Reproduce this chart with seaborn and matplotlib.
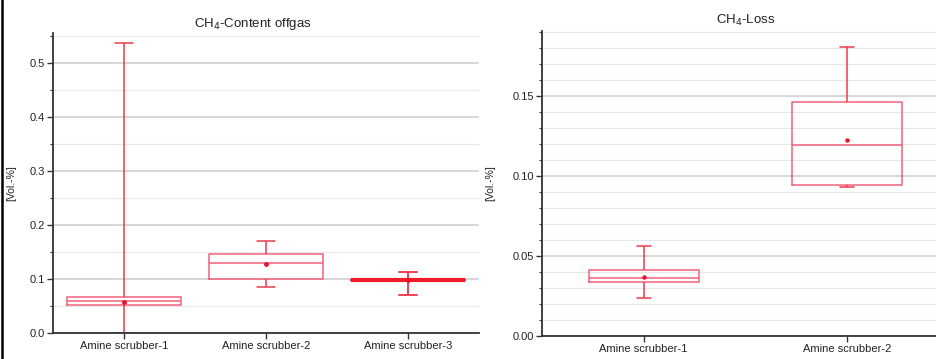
import matplotlib
matplotlib.use("Agg")
import matplotlib.pyplot as plt
import matplotlib.ticker as mticker
import pandas as pd
import seaborn as sns

# CH4 content in the offgas [Vol.-%]
left_cats = ["Amine scrubber-1", "Amine scrubber-2", "Amine scrubber-3"]
left_min = [0.0, 0.086, 0.070]
left_q1 = [0.051, 0.099, 0.098]
left_med = [0.059, 0.129, 0.098]
left_q3 = [0.066, 0.146, 0.098]
left_max = [0.537, 0.170, 0.113]
left_mean = [0.057, 0.127, 0.098]

# CH4 loss [Vol.-%]
right_cats = ["Amine scrubber-1", "Amine scrubber-2"]
right_min = [0.0236, 0.0933]
right_q1 = [0.0335, 0.0946]
right_med = [0.0365, 0.1196]
right_q3 = [0.0411, 0.1460]
right_max = [0.0560, 0.1804]
right_mean = [0.0369, 0.1223]


def long_form(cats, mins, q1s, meds, q3s, maxs):
    rows = []
    for c, a, b, m, d, e in zip(cats, mins, q1s, meds, q3s, maxs):
        for v in (a, b, m, d, e):
            rows.append({"group": c, "value": v})
    return pd.DataFrame(rows)


sns.set_theme(style="white")
plt.rcParams["font.family"] = ["Liberation Sans", "DejaVu Sans"]

box_col = "#f2607a"
whisk_col = "#ee3a4c"
mean_col = "#e8102a"


def draw_panel(ax, df, cats, means, width, capw):
    sns.boxplot(data=df, x="group", y="value", order=cats, ax=ax,
                whis=(0, 100), width=width, fill=False, color=box_col,
                linecolor=box_col, linewidth=1.1, capwidths=capw,
                boxprops={"color": box_col},
                whiskerprops={"color": whisk_col},
                capprops={"color": whisk_col},
                medianprops={"color": box_col})
    sns.stripplot(x=cats, y=means, order=cats, jitter=False, color=mean_col,
                  size=3.2, linewidth=0, ax=ax, zorder=5)
    ax.set_xlabel("")
    ax.set_ylabel("[Vol.-%]", fontsize=7.5, color="#222222")
    ax.grid(axis="y", which="major", color="#cfcfcf", lw=1.2)
    ax.grid(axis="y", which="minor", color="#e8e8e8", lw=0.8)
    ax.set_axisbelow(True)
    for s in ["top", "right"]:
        ax.spines[s].set_visible(False)
    for s in ["left", "bottom"]:
        ax.spines[s].set_color("#333333")
        ax.spines[s].set_linewidth(1.3)
    ax.tick_params(axis="both", which="major", direction="out", length=4,
                   width=1, color="#333333", labelsize=8, labelcolor="#222222",
                   left=True, bottom=True, pad=2)
    ax.tick_params(axis="y", which="minor", direction="out", length=2.5,
                   width=0.8, color="#333333", left=True)


fig = plt.figure(figsize=(9.36, 3.59), dpi=100)

ax1 = fig.add_axes([53 / 936, 26 / 359, 426 / 936, 300 / 359])
df_left = long_form(left_cats, left_min, left_q1, left_med, left_q3, left_max)
draw_panel(ax1, df_left, left_cats, left_mean, 0.8, 0.13)
# collapsed box of scrubber-3 drawn as a thick line
sns.boxplot(data=df_left[df_left["group"] == left_cats[2]], x="group", y="value",
            order=left_cats, ax=ax1, whis=(0, 100), width=0.8, fill=False,
            color="#ee1c24", linecolor="#ee1c24", linewidth=1.1, capwidths=0.13,
            boxprops={"color": "#ee1c24"},
            whiskerprops={"color": whisk_col},
            capprops={"color": whisk_col},
            medianprops={"color": "#ee1c24", "linewidth": 3})
sns.stripplot(x=left_cats, y=left_mean, order=left_cats, jitter=False,
              color=mean_col, size=3.2, linewidth=0, ax=ax1, zorder=5)
ax1.set_xlabel("")
ax1.set_ylabel("[Vol.-%]", fontsize=7.5, color="#222222")
ax1.set_xlim(-0.5, 2.5)
ax1.set_ylim(0, 0.555)
ax1.yaxis.set_major_locator(mticker.MultipleLocator(0.1))
ax1.yaxis.set_minor_locator(mticker.MultipleLocator(0.05))
ax1.yaxis.set_major_formatter(mticker.FormatStrFormatter("%.1f"))
ax1.yaxis.set_label_coords(-0.086, 0.5)
ax1.set_title(r"CH$_4$-Content offgas", fontsize=9.5, x=0.47, pad=4,
              color="#222222")

ax2 = fig.add_axes([542 / 936, 23 / 359, 406.7 / 936, 305 / 359])
df_right = long_form(right_cats, right_min, right_q1, right_med, right_q3, right_max)
draw_panel(ax2, df_right, right_cats, right_mean, 0.54, 0.07)
ax2.set_xlim(-0.5, 1.5)
ax2.set_ylim(0, 0.1906)
ax2.yaxis.set_major_locator(mticker.MultipleLocator(0.05))
ax2.yaxis.set_minor_locator(mticker.MultipleLocator(0.01))
ax2.yaxis.set_major_formatter(mticker.FormatStrFormatter("%.2f"))
ax2.yaxis.set_label_coords(-0.114, 0.5)
ax2.set_title(r"CH$_4$-Loss", fontsize=9.5, pad=5, color="#222222")

# black frame edge on the left
fig.add_artist(plt.Line2D([2.2 / 936, 2.2 / 936], [0, 1], transform=fig.transFigure,
                          color="black", lw=1.8))

fig.savefig("out.png", dpi=100)
